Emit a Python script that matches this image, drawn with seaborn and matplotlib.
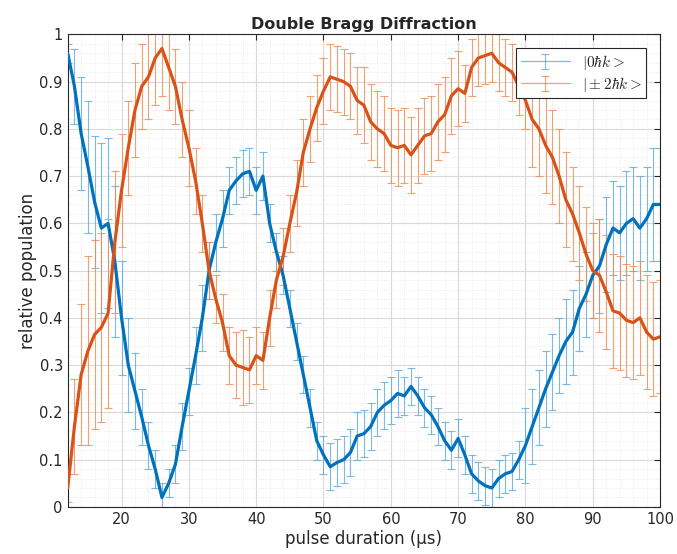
import numpy as np
import pandas as pd
import seaborn as sns
import matplotlib.pyplot as plt
from matplotlib.ticker import MultipleLocator

# pulse duration in microseconds, one point per us
t = list(range(12, 101))

# |0 hbar k> population
p0 = [0.96, 0.89, 0.79, 0.72, 0.645, 0.59, 0.60, 0.52, 0.40, 0.30,
      0.245, 0.19, 0.13, 0.08, 0.02, 0.05, 0.09, 0.17, 0.245, 0.32,
      0.40, 0.50, 0.56, 0.61, 0.67, 0.69, 0.705, 0.71, 0.67, 0.70,
      0.60, 0.54, 0.49, 0.42, 0.35, 0.28, 0.21, 0.14, 0.11, 0.085,
      0.094, 0.10, 0.115, 0.15, 0.155, 0.17, 0.20, 0.215, 0.225, 0.24,
      0.235, 0.255, 0.235, 0.21, 0.195, 0.17, 0.14, 0.12, 0.145, 0.11,
      0.07, 0.055, 0.045, 0.04, 0.06, 0.07, 0.075, 0.10, 0.13, 0.17,
      0.21, 0.25, 0.285, 0.32, 0.35, 0.37, 0.42, 0.45, 0.49, 0.51,
      0.555, 0.59, 0.58, 0.60, 0.61, 0.59, 0.61, 0.64, 0.64]
e0 = [0.02, 0.08, 0.12, 0.14, 0.14, 0.18, 0.18, 0.16, 0.12, 0.10,
      0.08, 0.06, 0.05, 0.04, 0.03, 0.03, 0.04, 0.05, 0.05, 0.06,
      0.07, 0.06, 0.06, 0.06, 0.05, 0.05, 0.05, 0.05, 0.05, 0.05,
      0.04, 0.04, 0.04, 0.04, 0.04, 0.04, 0.04, 0.04, 0.04, 0.05,
      0.05, 0.05, 0.05, 0.05, 0.05, 0.05, 0.05, 0.05, 0.05, 0.05,
      0.04, 0.04, 0.04, 0.04, 0.04, 0.04, 0.04, 0.04, 0.04, 0.04,
      0.04, 0.04, 0.04, 0.04, 0.04, 0.04, 0.04, 0.04, 0.08, 0.08,
      0.08, 0.08, 0.08, 0.08, 0.09, 0.09, 0.09, 0.09, 0.09, 0.10,
      0.10, 0.10, 0.10, 0.11, 0.11, 0.11, 0.11, 0.12, 0.12]

# |+-2 hbar k> population
p2 = [0.04, 0.17, 0.28, 0.33, 0.365, 0.38, 0.41, 0.56, 0.67, 0.76,
      0.84, 0.89, 0.91, 0.95, 0.97, 0.93, 0.89, 0.82, 0.76, 0.69,
      0.60, 0.50, 0.44, 0.39, 0.32, 0.30, 0.295, 0.29, 0.32, 0.31,
      0.40, 0.48, 0.53, 0.60, 0.665, 0.75, 0.80, 0.845, 0.88, 0.91,
      0.905, 0.90, 0.89, 0.86, 0.85, 0.815, 0.80, 0.79, 0.765, 0.76,
      0.765, 0.745, 0.765, 0.785, 0.79, 0.815, 0.83, 0.87, 0.885, 0.875,
      0.93, 0.95, 0.955, 0.96, 0.94, 0.93, 0.92, 0.89, 0.86, 0.82,
      0.80, 0.765, 0.74, 0.70, 0.65, 0.62, 0.58, 0.535, 0.50, 0.49,
      0.455, 0.415, 0.41, 0.395, 0.39, 0.40, 0.37, 0.355, 0.36]
e2 = [0.03, 0.10, 0.15, 0.20, 0.20, 0.20, 0.20, 0.15, 0.12, 0.10,
      0.10, 0.09, 0.09, 0.10, 0.10, 0.09, 0.08, 0.08, 0.08, 0.07,
      0.06, 0.06, 0.05, 0.06, 0.06, 0.07, 0.08, 0.07, 0.06, 0.06,
      0.06, 0.06, 0.06, 0.06, 0.07, 0.07, 0.07, 0.07, 0.07, 0.07,
      0.07, 0.07, 0.07, 0.07, 0.08, 0.08, 0.08, 0.08, 0.08, 0.08,
      0.08, 0.08, 0.08, 0.08, 0.08, 0.08, 0.08, 0.08, 0.08, 0.06,
      0.06, 0.06, 0.06, 0.06, 0.06, 0.06, 0.06, 0.06, 0.06, 0.10,
      0.10, 0.10, 0.10, 0.10, 0.10, 0.10, 0.10, 0.10, 0.10, 0.12,
      0.12, 0.12, 0.12, 0.12, 0.12, 0.12, 0.12, 0.12, 0.12]

labels = [r'$|0\hbar k>$', r'$|\pm 2\hbar k>$']
colors = ['#0072BD', '#D95319']
light = ['#5AAAE0', '#F28A4E']

df = pd.DataFrame({'t': t * 2, 'pop': p0 + p2, 'err': e0 + e2,
                   'state': [labels[0]] * len(t) + [labels[1]] * len(t)})

sns.set_style('white')
plt.rcParams['font.family'] = ['DejaVu Sans']
plt.rcParams['mathtext.fontset'] = 'cm'

fig, ax = plt.subplots(figsize=(6.77, 5.54), dpi=100)
fig.subplots_adjust(left=0.1, right=0.975, top=0.938, bottom=0.085)

handles = []
for lab, c in zip(labels, light):
    d = df[df['state'] == lab]
    h = ax.errorbar(d['t'], d['pop'], yerr=d['err'], color=c, alpha=0.8,
                    lw=0.9, elinewidth=0.8, capsize=3, capthick=0.8, label=lab,
                    zorder=2)
    handles.append(h)
sns.lineplot(data=df, x='t', y='pop', hue='state', hue_order=labels,
             palette=colors, linewidth=2.3, legend=False, ax=ax, zorder=5)

ax.set_xlim(12, 100)
ax.set_ylim(0, 1)
ax.set_xticks(range(20, 101, 10))
ax.set_yticks(np.arange(0, 1.01, 0.1))
ax.set_yticklabels(['0'] + ['%.1f' % v for v in np.arange(0.1, 0.95, 0.1)] + ['1'])
ax.xaxis.set_minor_locator(MultipleLocator(2))
ax.yaxis.set_minor_locator(MultipleLocator(0.02))
ax.grid(which='major', color='#dadada', lw=0.8)
ax.grid(which='minor', color='#e8e8e8', lw=0.6, ls=':')
ax.tick_params(which='both', direction='in', top=True, right=True,
               labelsize=10.5, colors='#262626', length=4)
ax.tick_params(which='minor', length=0)
for s in ax.spines.values():
    s.set_color('#262626')
    s.set_linewidth(0.8)

ax.set_xlabel('pulse duration (µs)', fontsize=12, color='#262626', labelpad=2)
ax.set_ylabel('relative population', fontsize=12, color='#262626', labelpad=2)
ax.set_title('Double Bragg Diffraction', fontsize=11.5, fontweight='bold', pad=4)
leg = ax.legend(handles=handles, labels=labels, loc='upper right', fontsize=11,
                fancybox=False, framealpha=1, edgecolor='#262626',
                borderaxespad=0.9, handlelength=3.2, borderpad=0.3,
                labelspacing=0.2)
leg.set_zorder(10)
leg.get_frame().set_linewidth(0.8)

fig.savefig('out.png')
